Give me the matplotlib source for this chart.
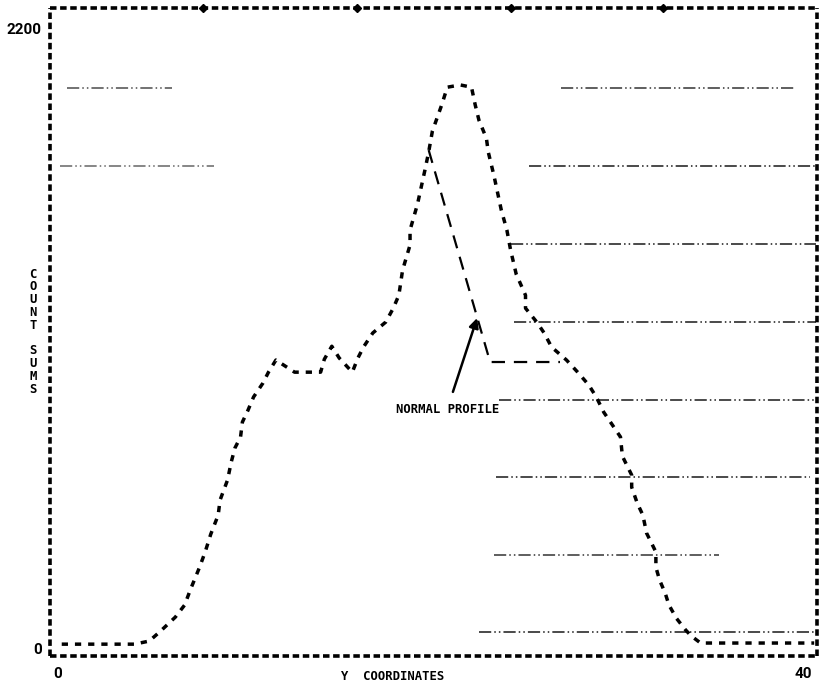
import matplotlib
matplotlib.use("Agg")
import matplotlib.pyplot as plt

# ---- data ----
y_coord = [0.2, 2.25, 2.9, 4.1, 4.9, 5.5, 6.3, 6.8, 7.1, 7.6, 7.9, 8.2, 8.6, 8.7, 9.1, 9.3,
           9.5, 9.8, 9.9, 10.2, 10.5, 11.0, 11.3, 11.7, 12.7, 14.1, 14.3, 14.7, 15.1, 15.8,
           16.1, 16.4, 16.9, 17.6, 18.0, 18.3, 18.5, 18.9, 18.9, 19.3, 19.7, 19.9, 20.1,
           20.6, 20.9, 21.6, 22.2, 22.4, 22.6, 23.0, 23.1, 23.4, 23.8, 24.1, 24.3, 24.6,
           25.1, 25.1, 25.7, 26.1, 26.5, 27.3, 27.9, 28.5, 28.9, 29.3, 29.7, 30.2, 30.3,
           30.8, 30.8, 31.1, 31.4, 31.6, 32.1, 32.1, 32.3, 32.6, 32.8, 33.2, 33.7, 34.0,
           34.5, 40.6]
count_sums = [14, 14, 14, 14, 25, 60, 110, 153, 206, 287, 341, 404, 472, 525, 596, 660,
              710, 749, 802, 844, 891, 940, 979, 1022, 979, 979, 1025, 1071, 1029, 979,
              1029, 1068, 1118, 1157, 1206, 1252, 1341, 1430, 1483, 1575, 1696, 1760, 1834,
              1927, 1990, 1998, 1990, 1927, 1873, 1809, 1760, 1678, 1554, 1483, 1412, 1327,
              1252, 1206, 1157, 1118, 1068, 1022, 979, 933, 891, 837, 798, 749, 681,
              614, 571, 514, 472, 408, 341, 287, 241, 195, 153, 106, 64, 43,
              18, 18]

normal_x = [19.9, 23.2, 26.95]
normal_y = [1767, 1015, 1015]

level_y = [1987, 1987, 1710, 1710, 1434, 1157, 880, 607, 330, 57]
level_x0 = [0.5, 27.0, 0.1, 25.3, 24.3, 24.5, 23.7, 23.5, 23.4, 22.6]
level_x1 = [6.1, 39.6, 8.4, 40.7, 40.7, 40.7, 40.7, 40.4, 35.5, 40.6]
level_alpha = [0.7, 0.8, 0.6, 0.9, 0.9, 0.9, 0.9, 0.9, 0.8, 0.9]

x_ticks = [0, 40]
x_ticklabels = ["0", "40"]
y_ticks = [0, 2200]
y_ticklabels = ["0", "2200"]
y_label_letters = ["C", "O", "U", "N", "T", "", "S", "U", "M", "S"]

# ---- figure ----
fig = plt.figure(figsize=(8.22, 6.88), dpi=100)
ax = fig.add_axes([50 / 822, 1 - 656 / 688, 767 / 822, 648 / 688])
ax.set_xlim(-0.43, 40.75)
ax.set_ylim(-28, 2271)

mono = {"family": "DejaVu Sans Mono", "weight": "bold"}

# reference level lines
for y, a, b, al in zip(level_y, level_x0, level_x1, level_alpha):
    ax.plot([a, b], [y, y], color="black", lw=1.1, alpha=al,
            linestyle=(0, (8, 2, 1, 2, 1, 2)))

# measured profile (line-printer characters)
ax.plot(y_coord, count_sums, color="black", lw=2.5, linestyle=(0, (1.8, 2.0)),
        solid_capstyle="butt", dash_capstyle="butt")

# normal profile
ax.plot(normal_x, normal_y, color="black", lw=1.6, linestyle=(0, (6, 4)))

ax.annotate("NORMAL PROFILE", xy=(22.5, 1171), xytext=(20.9, 848),
            ha="center", va="center", fontsize=8.8, **mono,
            arrowprops=dict(arrowstyle="-|>", color="black", lw=1.8,
                            mutation_scale=14, shrinkA=6, shrinkB=0))

# axes frame drawn as printer dashes
for s in ax.spines.values():
    s.set_linewidth(2.6)
    s.set_linestyle((0, (1.8, 1.0)))
    s.set_capstyle("butt")

ax.set_xticks(x_ticks)
ax.set_xticklabels(x_ticklabels)
ax.set_yticks(y_ticks)
ax.set_yticklabels(y_ticklabels)
for lab in ax.get_xticklabels() + ax.get_yticklabels():
    lab.set_fontfamily(["Roboto", "DejaVu Sans"])
    lab.set_fontweight("bold")
    lab.set_fontsize(11)
ax.tick_params(axis="x", length=0, pad=8)
ax.tick_params(axis="y", length=0, pad=6)

# small marks on the top border
for tx in [7.8, 16.05, 24.3, 32.5]:
    ax.plot([tx], [2271], marker="D", ms=4, color="black", clip_on=False)

fig.text(393 / 822, 1 - 677 / 688, "Y  COORDINATES", ha="center", va="center",
         fontsize=8.8, **mono)

for i, ch in enumerate(y_label_letters):
    fig.text(33 / 822, 1 - (274 + 12.8 * i) / 688, ch, ha="center", va="center",
             fontsize=8.8, **mono)

fig.savefig("out.png", dpi=100)
